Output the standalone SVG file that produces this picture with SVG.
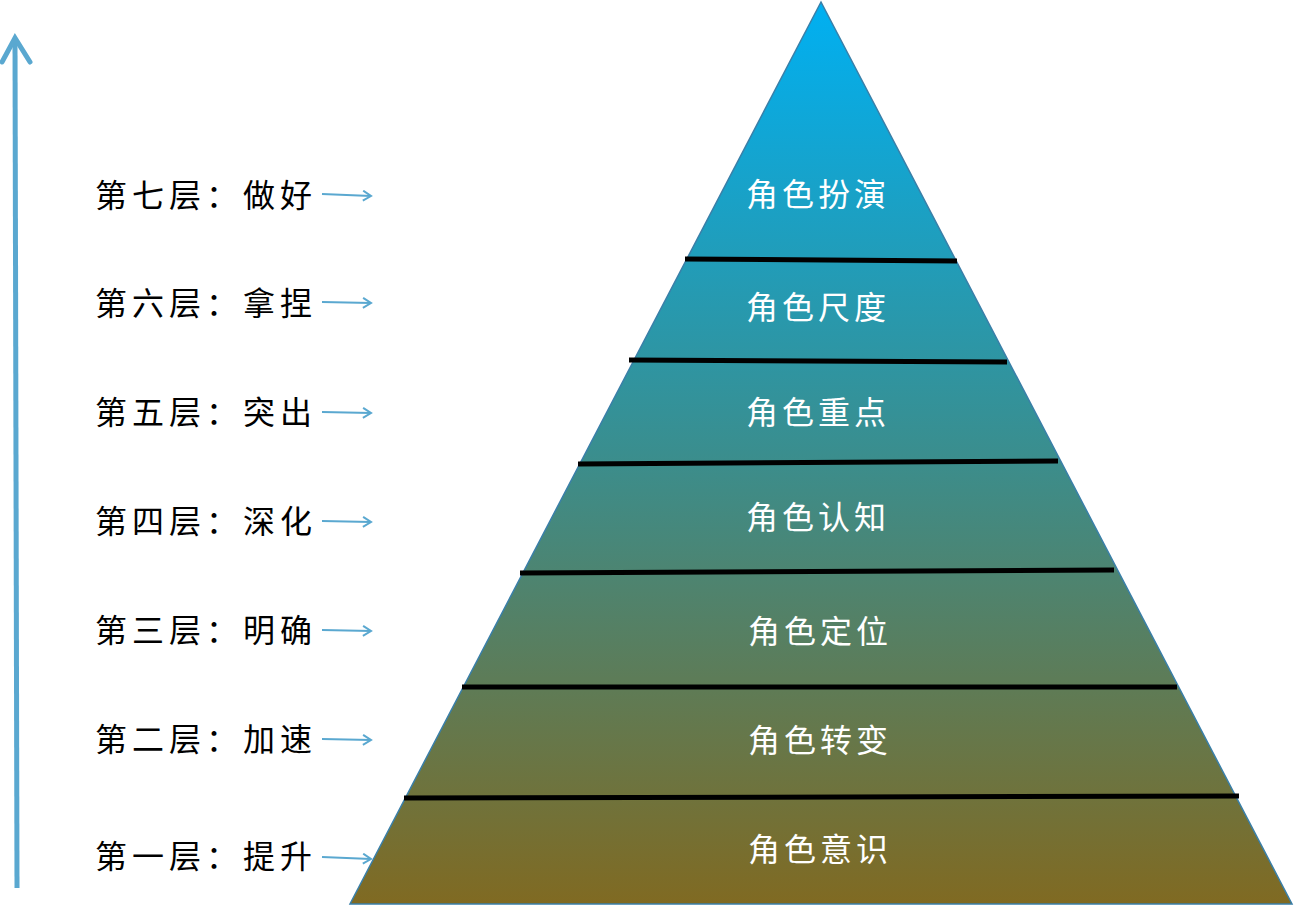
<svg xmlns="http://www.w3.org/2000/svg" width="1294" height="906" viewBox="0 0 1294 906">
<style>
.lbl{font-family:"Noto Sans CJK SC",sans-serif;font-size:32px;fill:#000;letter-spacing:5px}
.in{font-family:"Noto Sans CJK SC",sans-serif;font-size:32px;fill:#fff;text-anchor:middle;letter-spacing:4px}
.sep{stroke:#000;stroke-width:5}
.sa{stroke:#5aa8d0;stroke-width:2;fill:none}
</style>
<defs>
<linearGradient id="g" x1="0" y1="0" x2="0" y2="1">
<stop offset="0" stop-color="#00b0f2"/>
<stop offset="0.5" stop-color="#3a8e8e"/>
<stop offset="1" stop-color="#806a22"/>
</linearGradient>
<marker id="m" markerWidth="12" markerHeight="12" refX="10" refY="6" orient="auto" markerUnits="userSpaceOnUse">
<path d="M2,1 L10,6 L2,11" class="sa"/>
</marker>
</defs>
<rect width="1294" height="906" fill="#fff"/>
<g id="pyramid">
<polygon points="821,2 1292,904 350,904" fill="url(#g)" stroke="#3a7fa8" stroke-width="1.5"/>
</g>
<g id="connectors">
<line x1="685" y1="259" x2="957" y2="261" class="sep"/>
<line x1="629" y1="360" x2="1007" y2="362" class="sep"/>
<line x1="578" y1="464" x2="1058" y2="461" class="sep"/>
<line x1="520" y1="573" x2="1114" y2="570" class="sep"/>
<line x1="462" y1="687" x2="1177" y2="687" class="sep"/>
<line x1="404" y1="798" x2="1239" y2="796" class="sep"/>
<line x1="17" y1="888" x2="15" y2="40" stroke="#5aa8d0" stroke-width="5"/>
<path d="M2,62 L15,38 L30,62" stroke="#5aa8d0" stroke-width="5" fill="none" stroke-linecap="round"/>
<line x1="322" y1="194" x2="371" y2="196" class="sa" marker-end="url(#m)"/>
<line x1="322" y1="302" x2="371" y2="303" class="sa" marker-end="url(#m)"/>
<line x1="322" y1="412" x2="371" y2="413" class="sa" marker-end="url(#m)"/>
<line x1="322" y1="521" x2="371" y2="522" class="sa" marker-end="url(#m)"/>
<line x1="322" y1="630" x2="371" y2="631" class="sa" marker-end="url(#m)"/>
<line x1="322" y1="739" x2="371" y2="740" class="sa" marker-end="url(#m)"/>
<line x1="322" y1="857" x2="371" y2="859" class="sa" marker-end="url(#m)"/>
</g>
<g id="labels">
<text class="lbl" x="95" y="207">第七层：做好</text>
<text class="lbl" x="95" y="315">第六层：拿捏</text>
<text class="lbl" x="95" y="424">第五层：突出</text>
<text class="lbl" x="95" y="533">第四层：深化</text>
<text class="lbl" x="95" y="642">第三层：明确</text>
<text class="lbl" x="95" y="751">第二层：加速</text>
<text class="lbl" x="95" y="868">第一层：提升</text>
</g>
<g id="layers">
<text class="in" x="818" y="206">角色扮演</text>
<text class="in" x="818" y="319">角色尺度</text>
<text class="in" x="818" y="424">角色重点</text>
<text class="in" x="818" y="529">角色认知</text>
<text class="in" x="820" y="643">角色定位</text>
<text class="in" x="820" y="752">角色转变</text>
<text class="in" x="820" y="861">角色意识</text>
</g>
</svg>
